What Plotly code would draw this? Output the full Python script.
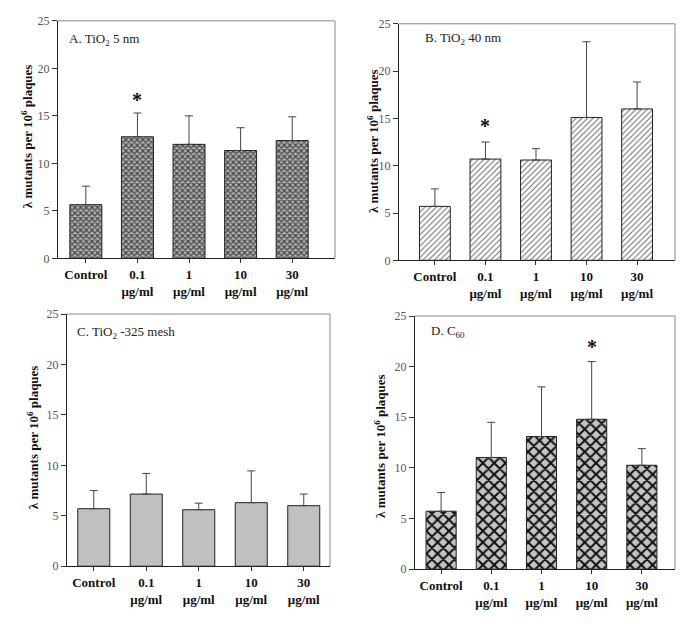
import plotly.graph_objects as go

categories = ["Control", "0.1<br>μg/ml", "1<br>μg/ml", "10<br>μg/ml", "30<br>μg/ml"]
x_pos = [0, 1, 2, 3, 4]

tio2_5nm = [5.65, 12.8, 12.0, 11.35, 12.4]
tio2_5nm_err = [1.95, 2.5, 3.0, 2.4, 2.5]

tio2_40nm = [5.7, 10.7, 10.6, 15.1, 16.0]
tio2_40nm_err = [1.85, 1.8, 1.2, 8.0, 2.85]

tio2_mesh = [5.7, 7.15, 5.6, 6.3, 6.0]
tio2_mesh_err = [1.8, 2.05, 0.65, 3.15, 1.15]

c60 = [5.72, 11.03, 13.1, 14.8, 10.26]
c60_err = [1.84, 3.47, 4.9, 5.7, 1.64]

panel_titles = ["A. TiO<sub>2</sub> 5 nm", "B. TiO<sub>2</sub> 40 nm",
                "C. TiO<sub>2</sub> -325 mesh", "D. C<sub>60</sub>"]
sig_marks = {0: [(1, 16.7)], 1: [(1, 14.2)], 3: [(3, 21.9)]}

OFF = 8  # page body margin
W, H = 685 - 2 * OFF, 633 - 2 * OFF


def px(x):
    return (x - OFF) / W


def py(y):
    return 1 - (y - OFF) / H


# pixel boxes in screen coords: (left, right, top, bottom)
boxes = [(58, 335, 14, 257), (399, 675, 17, 259), (67, 330, 314, 572), (415, 675, 316, 575)]
xranges = [[-0.54, 4.83], [-0.71, 4.75], [-0.51, 4.5], [-0.52, 4.66]]
widths = [0.62, 0.61, 0.61, 0.6]
ytitle_pos = [(27, 132), (373, 137), (33, 440), (380, 449)]
label_pos = [(67, 33), (423, 32), (75, 333), (429, 332)]

patterns = [
    dict(shape="x", size=4, solidity=0.5, fgcolor="#444444", bgcolor="#b0b0b0", fillmode="replace"),
    dict(shape="/", size=4, solidity=0.25, fgcolor="#6a6a6a", bgcolor="#ffffff", fillmode="replace"),
    None,
    dict(shape="x", size=8, solidity=0.45, fgcolor="#111111", bgcolor="#c4c4c4", fillmode="replace"),
]
series = [(tio2_5nm, tio2_5nm_err), (tio2_40nm, tio2_40nm_err),
          (tio2_mesh, tio2_mesh_err), (c60, c60_err)]

fig = go.Figure()
font_family = "Liberation Serif, Times New Roman, serif"
layout = dict(width=W, height=H, margin=dict(l=0, r=0, t=0, b=0),
              paper_bgcolor="white", plot_bgcolor="white", showlegend=False,
              font=dict(family=font_family, color="#222"))
annotations = []
shapes = []
for i, ((vals, errs), box) in enumerate(zip(series, boxes)):
    n = "" if i == 0 else str(i + 1)
    l, r, t, b = box
    xd = [px(l), px(r)]
    yd = [py(b), py(t)]
    marker = dict(line=dict(color="#222", width=1))
    if patterns[i] is None:
        marker["color"] = "#c0c0c0"
    else:
        marker["color"] = patterns[i]["bgcolor"]
        marker["pattern"] = patterns[i]
    fig.add_trace(go.Bar(
        x=x_pos, y=vals, width=widths[i], marker=marker,
        error_y=dict(type="data", array=errs, arrayminus=[0] * len(errs),
                     symmetric=False, color="#444", thickness=1, width=4),
        xaxis="x" + n, yaxis="y" + n))
    layout["xaxis" + n] = dict(
        domain=xd, anchor="y" + n, range=xranges[i], tickmode="array",
        tickvals=x_pos, ticktext=["<b>%s</b>" % c for c in categories],
        ticks="outside", ticklen=4, tickcolor="#333", showline=True,
        linecolor="#222", linewidth=1, showgrid=False, zeroline=False,
        tickfont=dict(size=13, color="#111", family=font_family))
    layout["yaxis" + n] = dict(
        domain=yd, anchor="x" + n, range=[0, 25], tickvals=[0, 5, 10, 15, 20, 25],
        ticks="outside", ticklen=5, tickcolor="#333", showline=True,
        linecolor="#222", linewidth=1, showgrid=False, zeroline=False,
        tickfont=dict(size=12, color="#555", family=font_family))
    # lighter top and right frame
    shapes.append(dict(type="line", xref="x%s domain" % n, yref="y%s domain" % n,
                       x0=0, x1=1, y0=1, y1=1, line=dict(color="#888", width=1)))
    shapes.append(dict(type="line", xref="x%s domain" % n, yref="y%s domain" % n,
                       x0=1, x1=1, y0=0, y1=1, line=dict(color="#888", width=1)))
    tx, ty = ytitle_pos[i]
    annotations.append(dict(text="<b>λ mutants per 10<sup>6</sup> plaques</b>",
                            x=px(tx), y=py(ty), xref="paper", yref="paper",
                            xanchor="center", yanchor="middle",
                            textangle=-90, showarrow=False,
                            font=dict(size=13, color="#111", family=font_family)))
    lx, ly = label_pos[i]
    annotations.append(dict(text=panel_titles[i], x=px(lx), y=py(ly),
                            xref="paper", yref="paper", xanchor="left",
                            yanchor="middle", showarrow=False,
                            font=dict(size=13, color="#222", family=font_family)))
    for (xi, yv) in sig_marks.get(i, []):
        annotations.append(dict(text="<b>*</b>", x=xi, y=yv, xref="x" + n, yref="y" + n,
                                xanchor="center", yanchor="middle",
                                showarrow=False,
                                font=dict(size=20, color="#111", family=font_family)))

layout["annotations"] = annotations
layout["shapes"] = shapes
fig.update_layout(**layout)
fig.write_html("out.html")
